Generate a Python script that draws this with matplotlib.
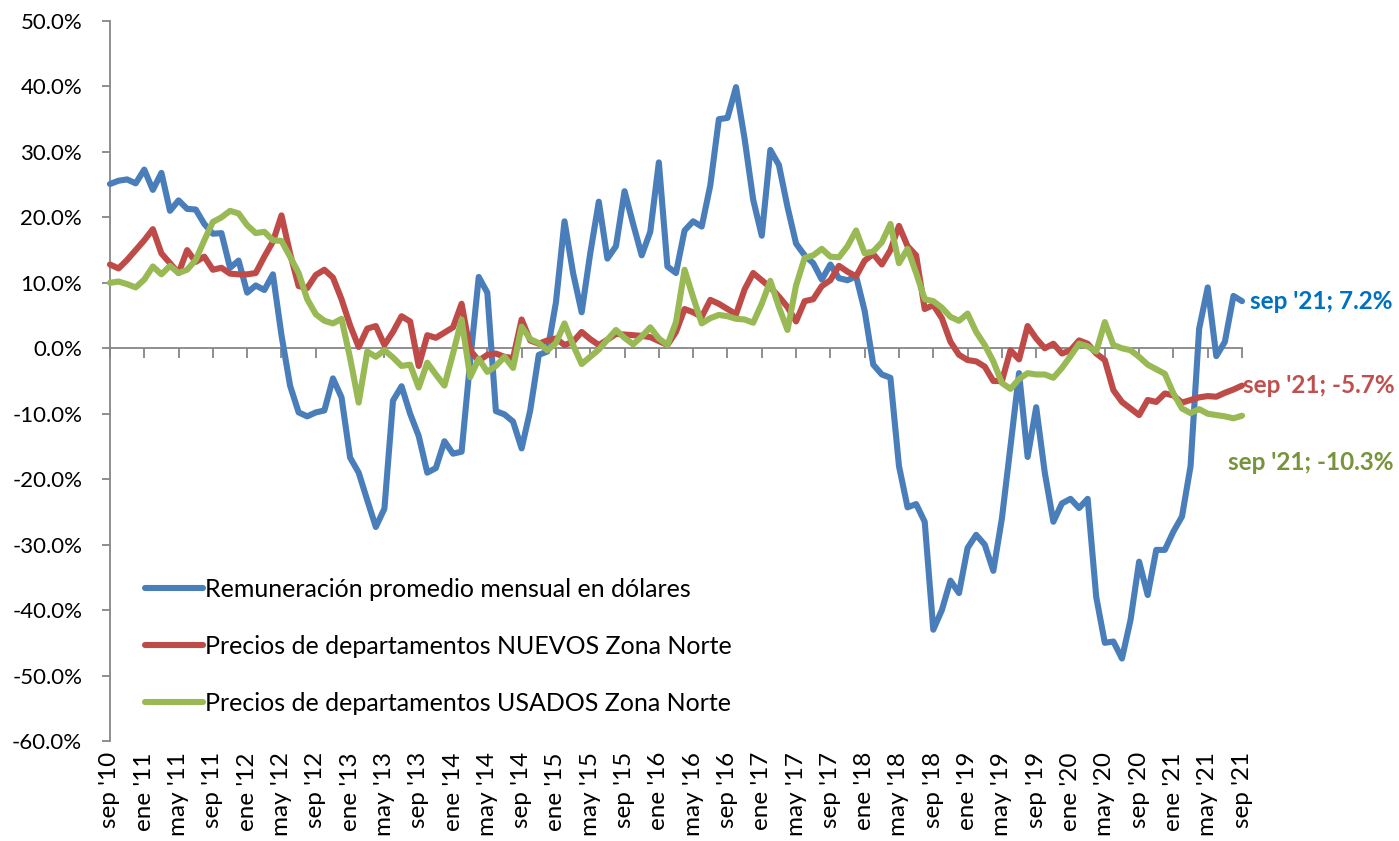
import matplotlib
matplotlib.use("Agg")
import matplotlib.pyplot as plt
import numpy as np

plt.rcParams['font.family'] = ['Lato', 'DejaVu Sans']

# monthly values, sep '10 .. sep '21 (%)
remuneracion = [
    25.1, 25.6, 25.8, 25.2, 27.3, 24.2, 26.8, 21.0, 22.6, 21.3, 21.2, 19.0,
    17.5, 17.6, 12.3, 13.4, 8.5, 9.6, 8.9, 11.3, 2.0, -5.7, -9.8, -10.4,
    -9.8, -9.5, -4.6, -7.5, -16.7, -19.0, -23.2, -27.3, -24.5, -8.0, -5.8, -10.0,
    -13.4, -19.0, -18.3, -14.2, -16.1, -15.8, -2.0, 10.9, 8.5, -9.6, -10.1, -11.2,
    -15.3, -9.5, -1.0, -0.5, 7.0, 19.4, 11.5, 5.5, 14.5, 22.4, 13.7, 15.6,
    24.0, 19.0, 14.2, 17.8, 28.4, 12.5, 11.5, 18.0, 19.4, 18.6, 24.9, 35.0,
    35.2, 39.9, 32.0, 22.7, 17.2, 30.3, 28.0, 21.6, 16.0, 14.2, 13.0, 10.5,
    12.8, 10.7, 10.4, 11.0, 5.7, -2.5, -4.0, -4.5, -18.0, -24.3, -23.8, -26.5,
    -43.0, -40.0, -35.5, -37.4, -30.5, -28.5, -30.0, -34.0, -26.0, -15.0, -3.8, -16.6,
    -9.0, -19.0, -26.5, -23.7, -23.0, -24.4, -23.0, -38.0, -45.0, -44.8, -47.4, -41.5,
    -32.6, -37.7, -30.8, -30.8, -28.0, -25.7, -18.0, 3.0, 9.3, -1.2, 1.0, 8.0,
    7.2,
]
nuevos = [
    12.8, 12.2, 13.5, 15.0, 16.5, 18.2, 14.5, 13.0, 11.5, 15.0, 13.2, 14.0,
    12.0, 12.3, 11.4, 11.3, 11.3, 11.5, 14.0, 16.3, 20.3, 14.5, 9.5, 9.2,
    11.2, 12.0, 10.8, 7.5, 3.5, 0.2, 3.0, 3.4, 0.5, 2.5, 4.9, 4.1,
    -2.7, 2.0, 1.6, 2.4, 3.2, 6.8, -0.3, -1.9, -1.0, -0.8, -1.3, -1.5,
    4.4, 1.2, 0.7, 1.2, 1.5, 0.5, 1.0, 2.5, 1.4, 0.5, 1.3, 2.2,
    2.1, 2.0, 1.9, 1.7, 1.1, 0.5, 2.5, 6.0, 5.5, 4.8, 7.4, 6.8,
    6.0, 5.2, 9.0, 11.5, 10.4, 9.3, 7.9, 6.3, 4.1, 7.2, 7.5, 9.5,
    10.4, 12.6, 11.7, 11.0, 13.4, 14.4, 12.8, 15.0, 18.7, 15.6, 14.2, 6.0,
    6.6, 4.6, 1.0, -1.0, -1.8, -2.0, -2.8, -5.0, -5.0, -0.3, -1.7, 3.4,
    1.5, 0.0, 0.7, -0.8, -0.3, 1.2, 0.7, -0.8, -1.8, -6.4, -8.2, -9.2,
    -10.2, -7.9, -8.2, -6.9, -7.2, -8.3, -7.9, -7.5, -7.3, -7.4, -6.8, -6.3,
    -5.7,
]
usados = [
    10.0, 10.2, 9.8, 9.3, 10.5, 12.5, 11.3, 12.6, 11.5, 12.0, 13.5, 16.5,
    19.3, 20.0, 21.0, 20.6, 18.8, 17.6, 17.8, 16.5, 16.4, 14.0, 11.5, 7.5,
    5.2, 4.2, 3.8, 4.5, -1.5, -8.3, -0.5, -1.3, -0.3, -1.4, -2.7, -2.5,
    -6.0, -2.2, -4.0, -5.7, -0.8, 4.4, -4.4, -1.6, -3.6, -2.7, -1.3, -3.0,
    3.3, 1.4, 0.8, -0.3, 0.8, 3.8, 0.5, -2.4, -1.3, -0.2, 1.3, 2.8,
    1.6, 0.6, 1.8, 3.2, 1.5, 0.5, 4.0, 12.0, 7.8, 3.8, 4.6, 5.1,
    4.9, 4.5, 4.4, 3.9, 6.8, 10.3, 6.3, 2.8, 9.6, 13.8, 14.2, 15.2,
    14.0, 13.9, 15.6, 18.0, 14.5, 14.8, 16.2, 19.0, 13.0, 15.2, 11.5, 7.5,
    7.2, 6.2, 4.8, 4.2, 5.3, 2.5, 0.5, -2.0, -5.3, -6.2, -4.7, -3.8,
    -4.0, -4.0, -4.5, -3.0, -1.2, 0.7, 0.3, -0.5, 4.0, 0.5, 0.0, -0.3,
    -1.3, -2.5, -3.2, -3.9, -6.9, -9.2, -9.9, -9.3, -10.0, -10.2, -10.4, -10.7,
    -10.3,
]

tick_labels = [
    "sep '10", "ene '11", "may '11", "sep '11", "ene '12", "may '12", "sep '12",
    "ene '13", "may '13", "sep '13", "ene '14", "may '14", "sep '14", "ene '15",
    "may '15", "sep '15", "ene '16", "may '16", "sep '16", "ene '17", "may '17",
    "sep '17", "ene '18", "may '18", "sep '18", "ene '19", "may '19", "sep '19",
    "ene '20", "may '20", "sep '20", "ene '21", "may '21", "sep '21",
]

series = [
    (remuneracion, '#4A7EBB', 'Remuneración promedio mensual en dólares', '#0070C0', (8, 0)),
    (nuevos, '#BE4B48', 'Precios de departamentos NUEVOS Zona Norte', '#C0504D', (1, 0)),
    (usados, '#98B954', 'Precios de departamentos USADOS Zona Norte', '#77933C', (-14, -47)),
]

fig = plt.figure(figsize=(13.99, 8.41), dpi=100)
ax = fig.add_axes([0.0786, 0.1189, 0.8092, 0.8561])

x = np.arange(len(remuneracion))
for vals, col, lab, tcol, off in series:
    ax.plot(x, vals, color=col, lw=4.4, label=lab, solid_joinstyle='round',
            solid_capstyle='round', clip_on=False, zorder=3)
    ax.annotate("sep '21; %.1f%%" % vals[-1], xy=(x[-1], vals[-1]), xytext=off,
                textcoords='offset pixels', ha='left', va='center',
                fontsize=17.5, fontweight='bold', color=tcol, annotation_clip=False)

ax.set_xlim(0, len(x) - 1)
ax.set_ylim(-60, 50)
ax.set_yticks(np.arange(-60, 51, 10))
ax.set_yticklabels(['%.1f%%' % v for v in np.arange(-60, 51, 10)])

gray = '#868686'
for s in ['top', 'right']:
    ax.spines[s].set_visible(False)
ax.spines['left'].set_color(gray)
ax.spines['left'].set_linewidth(1.3)
ax.spines['bottom'].set_position(('data', 0))
ax.spines['bottom'].set_color(gray)
ax.spines['bottom'].set_linewidth(1.3)

tick_pos = np.arange(0, len(x), 4)
ax.set_xticks(tick_pos)
ax.tick_params(axis='x', direction='out', length=7, width=1.3, color=gray, labelbottom=False)
ax.tick_params(axis='y', direction='out', length=6, width=1.3, color=gray,
               labelsize=16, pad=14)

sec = ax.secondary_xaxis('bottom')
sec.set_xticks(tick_pos)
sec.set_xticklabels(tick_labels, rotation=90, fontsize=17.5)
sec.tick_params(length=0, pad=8)
sec.spines['bottom'].set_visible(False)

ax.legend(loc='lower left', bbox_to_anchor=(0.031, 0.036), frameon=False,
          fontsize=18, handlelength=2.3, handletextpad=0.08, labelspacing=1.37,
          borderpad=0, borderaxespad=0)

fig.savefig('out.png', dpi=100)
